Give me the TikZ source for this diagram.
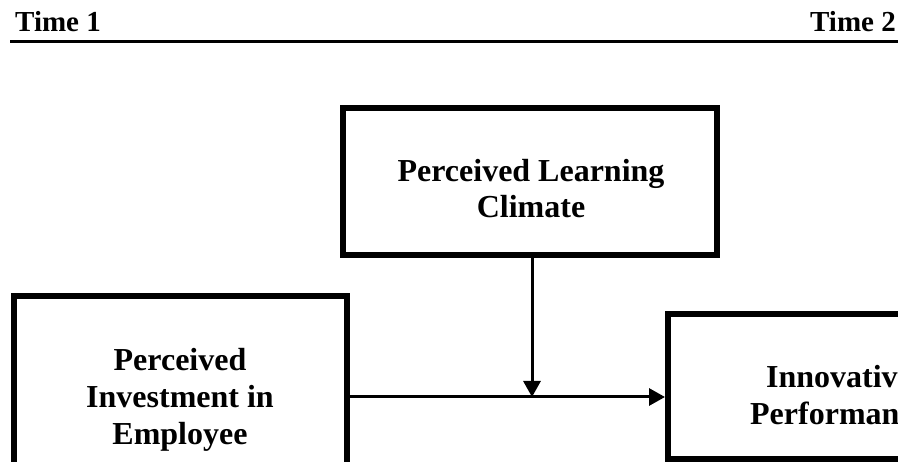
\documentclass[tikz,border=0pt]{standalone}
\usepackage{fontspec}
\setmainfont{Liberation Serif}
\usetikzlibrary{arrows.meta}
\begin{document}
\begin{tikzpicture}[x=1pt,y=-1pt,
  box/.style={draw, line width=6pt, rectangle, inner sep=0pt},
  lbl/.style={inner sep=0pt, anchor=base, font=\fontsize{32}{37}\selectfont\bfseries},
  hdr/.style={inner sep=0pt, anchor=base, font=\fontsize{29}{34}\selectfont\bfseries},
  arr/.style={line width=3pt, -{Triangle[length=16pt,width=17pt]}}]
\useasboundingbox (0,0) rectangle (898,462);
\clip (0,0) rectangle (898,462);
% header
\node[hdr, anchor=base west] (t1) at (15,32) {Time 1};
\node[hdr, anchor=base east] (t2) at (896,32) {Time 2};
\coordinate (hl) at (10,42);
\coordinate (hr) at (900,42);
\draw[line width=3pt] (hl) -- (hr);
% boxes
\node[box, minimum width=374pt, minimum height=147pt] (top) at (530,181.5) {};
\node[box, minimum width=333pt, minimum height=204pt] (left) at (180,398) {};
\node[box, minimum width=336pt, minimum height=145pt] (right) at (836,387) {};
% labels
\node[lbl] (toplbl) at (531,182) {\begin{tabular}[t]{@{}c@{}}Perceived Learning\\[-1pt]Climate\end{tabular}};
\node[lbl] (leftlbl) at (180,371) {\begin{tabular}[t]{@{}c@{}}Perceived\\Investment in\\Employee\end{tabular}};
\node[lbl] (rightlbl) at (839,388) {\begin{tabular}[t]{@{}c@{}}Innovative\\Performance\end{tabular}};
% connectors
\coordinate (j) at (532,397);
\draw[arr] (top.south -| j) -- (j);
\draw[arr] (left.east |- j) -- (right.west |- j);
\end{tikzpicture}
\end{document}
